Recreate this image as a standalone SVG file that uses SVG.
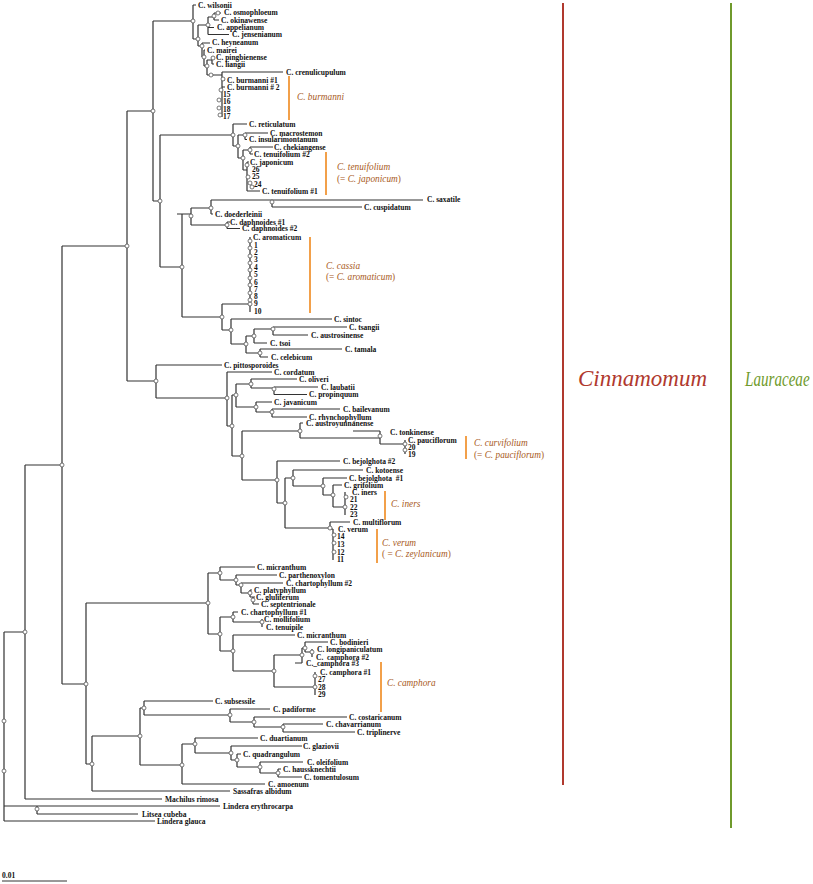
<svg xmlns="http://www.w3.org/2000/svg" xmlns:xlink="http://www.w3.org/1999/xlink" width="813" height="884" viewBox="0 0 813 884">
<style>
.br{fill:none;stroke:#333;stroke-width:1.2}
.lb{font-family:"Liberation Serif",serif;font-weight:bold;font-size:7.5px;fill:#111}
.cl{font-family:"Liberation Serif",serif;font-style:italic;font-size:9.3px;fill:#a85a1c}
.up{font-style:normal}
.bar{stroke:#f2a04a;stroke-width:2}
</style>
<defs>
<circle id="nc" r="2" fill="#fff" stroke="#555" stroke-width="0.8"/>
</defs>
<rect width="813" height="884" fill="#fff"/>
<g id="connectors" class="br">
<path d="M127 111V381M62 246H127M127 111H153M153 21V201M153 21H193M153 201H160"/>
<path d="M193 5V39M193 5H196M193 39H198M198 25V46M198 25H208M198 46H202M208 17V34.5M208 17H214M208 27.5H214M208 34.5H229M214 13V20M214 13H221M214 20H219M202 43V57M202 43H210M202 57H204M204 50V66M204 50H205M204 66H207M207 60V75M207 60H212M207 75H222M212 57V64M212 57H214M212 64H214M222 72V117M222 72H283M222 80H225M222 87H225"/>
<path d="M160 135V267M160 135H233M160 267H182M233 124V146M233 124H247M233 146H238M238 135V158M238 135H245M238 158H243M245 133V139.5M245 133H268M245 139.5H247M243 150V170M243 150H250M243 170H247M250 147V154M250 147H273M250 154H253M247 162V191M247 162H249M247 191H260"/>
<path d="M182 214V317M177 214H191M191 208V225M191 208H211M191 225H227M211 200V214M211 200H423M211 214H213M272 200V207M272 207H362M227 222V228.5M227 222H230M227 228.5H240"/>
<path d="M182 317H222M222 304V330M222 304H250M222 330H231M250 237V312M231 319V344M231 319H332M231 344H246M246 336V353M246 336H254M246 353H260M254 329V343M254 329H273M254 343H267M273 327V335M273 327H347M273 335H308M260 349V357M260 349H342M260 357H268"/>
<path d="M127 381H156M156 365V398M156 365H222M156 398H227M227 372V426M227 372H272M227 426H232M232 395V456M232 395H236M232 456H242M236 384V407M236 384H251M236 407H256M251 379V388M251 379H297M251 388H274M274 387V394.5M274 387H318M274 394.5H307M256 402V412M256 402H272M256 412H272M272 409V417M272 409H340M272 417H307"/>
<path d="M242 431V480M242 431H300M242 480H277M300 423V438M300 423H303M300 438H380M380 431V444M353 431H380M380 444H405M405 440V454M277 461V503M277 461H340M277 503H285M285 478V528M285 478H293M285 528H330M293 470V486M293 470H363M293 486H323M323 478V495M323 478H347M323 495H333M333 485V507M333 485H342M333 507H345M345 492V515M330 522V529M330 522H350M330 529H333M333 529V560"/>
<path d="M62 246V684M25 465H62M62 684H86M86 603V764M86 603H208M86 764H92M208 573V634M208 573H220M208 634H220M220 567V580M220 567H255M220 580H236M236 575V585M236 575H277M236 585H241M241 583V593M241 583H283M241 593H250M250 590V597M250 590H252M250 597H253M253 597V604M253 597H255M253 604H259M220 617V651M220 617H233M220 651H233M233 612V622M233 612H238M233 622H262M262 619V627M233 635V671M233 635H295M233 671H274M274 655V687M274 655H302M274 687H315M302 648V663M302 648H305M295 663H302M305 642V652M305 642H328M305 652H312M312 649V657M315 672V695"/>
<path d="M92 736V791M92 736H140M92 791H230M140 708V765M140 708H144M140 765H182M144 701V715M144 701H213M144 715H230M230 709V722M230 709H270M230 722H254M254 717V727M254 717H347M254 727H283M283 724V732M283 724H323M283 732H355M182 744V784M182 744H195M182 784H265M195 738V753M195 738H258M195 753H231M231 746V760M231 746H302M231 760H237M237 754V767M237 754H241M237 767H260M260 762V773M260 762H303M260 773H278M278 769V777M278 769H281M278 777H302"/>
<path d="M25 465V799M25 799H162M4 632H25M4 632V821M4 806H37M4 821H155M37 806V814M37 806H220M37 814H138"/>
</g>
<g id="internal-nodes">
<use href="#nc" x="153" y="111"/><use href="#nc" x="193" y="21"/><use href="#nc" x="198" y="39"/><use href="#nc" x="208" y="25"/><use href="#nc" x="214" y="16"/><use href="#nc" x="218" y="13"/><use href="#nc" x="202" y="46"/><use href="#nc" x="204" y="57"/><use href="#nc" x="207" y="66"/><use href="#nc" x="213" y="58"/><use href="#nc" x="211" y="75"/><use href="#nc" x="223" y="79"/><use href="#nc" x="221" y="90"/><use href="#nc" x="219" y="100"/><use href="#nc" x="219" y="108"/><use href="#nc" x="220" y="115"/>
<use href="#nc" x="160" y="201"/><use href="#nc" x="233" y="135"/><use href="#nc" x="238" y="146"/><use href="#nc" x="245" y="135"/><use href="#nc" x="243" y="158"/><use href="#nc" x="250" y="150"/><use href="#nc" x="247" y="165"/><use href="#nc" x="248" y="177"/><use href="#nc" x="250" y="183"/><use href="#nc" x="252" y="187"/>
<use href="#nc" x="182" y="267"/><use href="#nc" x="191" y="216"/><use href="#nc" x="211" y="208"/><use href="#nc" x="272" y="202"/><use href="#nc" x="227" y="225"/>
<use href="#nc" x="222" y="317"/><use href="#nc" x="250" y="304"/><use href="#nc" x="231" y="330"/><use href="#nc" x="246" y="344"/><use href="#nc" x="254" y="336"/><use href="#nc" x="273" y="329"/><use href="#nc" x="260" y="353"/>
<use href="#nc" x="250" y="241"/><use href="#nc" x="250" y="248"/><use href="#nc" x="250" y="256"/><use href="#nc" x="250" y="263"/><use href="#nc" x="250" y="270"/><use href="#nc" x="250" y="278"/><use href="#nc" x="250" y="285"/><use href="#nc" x="250" y="293"/><use href="#nc" x="250" y="300"/>
<use href="#nc" x="127" y="246"/><use href="#nc" x="156" y="381"/><use href="#nc" x="227" y="398"/><use href="#nc" x="232" y="426"/><use href="#nc" x="236" y="395"/><use href="#nc" x="251" y="384"/><use href="#nc" x="274" y="389"/><use href="#nc" x="256" y="407"/><use href="#nc" x="272" y="412"/><use href="#nc" x="242" y="456"/><use href="#nc" x="300" y="431"/><use href="#nc" x="380" y="436"/><use href="#nc" x="405" y="444"/><use href="#nc" x="405" y="450"/><use href="#nc" x="277" y="480"/><use href="#nc" x="285" y="503"/><use href="#nc" x="293" y="478"/><use href="#nc" x="323" y="486"/><use href="#nc" x="333" y="495"/><use href="#nc" x="345" y="507"/><use href="#nc" x="346" y="497"/><use href="#nc" x="330" y="528"/><use href="#nc" x="334" y="535"/><use href="#nc" x="334" y="543"/><use href="#nc" x="334" y="552"/>
<use href="#nc" x="62" y="465"/><use href="#nc" x="25" y="632"/><use href="#nc" x="4" y="721"/><use href="#nc" x="4" y="771"/><use href="#nc" x="37" y="809"/><use href="#nc" x="86" y="684"/><use href="#nc" x="208" y="603"/><use href="#nc" x="220" y="573"/><use href="#nc" x="236" y="580"/><use href="#nc" x="241" y="585"/><use href="#nc" x="250" y="593"/><use href="#nc" x="253" y="600"/><use href="#nc" x="220" y="634"/><use href="#nc" x="233" y="617"/><use href="#nc" x="262" y="622"/><use href="#nc" x="233" y="651"/><use href="#nc" x="274" y="671"/><use href="#nc" x="302" y="655"/><use href="#nc" x="305" y="648"/><use href="#nc" x="312" y="652"/><use href="#nc" x="315" y="676"/><use href="#nc" x="315" y="687"/>
<use href="#nc" x="92" y="764"/><use href="#nc" x="140" y="736"/><use href="#nc" x="144" y="708"/><use href="#nc" x="230" y="715"/><use href="#nc" x="254" y="722"/><use href="#nc" x="283" y="727"/><use href="#nc" x="182" y="765"/><use href="#nc" x="195" y="744"/><use href="#nc" x="231" y="753"/><use href="#nc" x="237" y="760"/><use href="#nc" x="260" y="767"/><use href="#nc" x="278" y="773"/>
</g>
<g id="tips" class="lb">
<g id="t-wilsonii"><text x="198" y="7.7">C. wilsonii</text></g>
<g id="t-osmophloeum"><text x="224" y="15.4">C. osmophloeum</text></g>
<g id="t-okinawense"><text x="221" y="22.7">C. okinawense</text></g>
<g id="t-appelianum"><text x="217" y="30.2">C. appelianum</text></g>
<g id="t-jensenianum"><text x="232" y="37.2">C. jensenianum</text></g>
<g id="t-heyneanum"><text x="212" y="45.4">C. heyneanum</text></g>
<g id="t-mairei"><text x="207" y="52.7">C. mairei</text></g>
<g id="t-pingbienense"><text x="216" y="59.7">C. pingbienense</text></g>
<g id="t-liangii"><text x="216" y="66.7">C. liangii</text></g>
<g id="t-crenulicupulum"><text x="286" y="74.7">C. crenulicupulum</text></g>
<g id="t-burmanni1"><text x="227" y="82.7">C. burmanni #1</text></g>
<g id="t-burmanni2"><text x="227" y="89.7">C. burmanni # 2</text></g>
<g id="t-15"><text x="223" y="96.7">15</text></g>
<g id="t-16"><text x="223" y="104.2">16</text></g>
<g id="t-18"><text x="223" y="111.7">18</text></g>
<g id="t-17"><text x="223" y="119.2">17</text></g>
<g id="t-reticulatum"><text x="249" y="126.7">C. reticulatum</text></g>
<g id="t-macrostemon"><text x="270" y="135.5">C. macrostemon</text></g>
<g id="t-insularimontanum"><text x="249" y="142.4">C. insularimontanum</text></g>
<g id="t-chekiangense"><text x="274" y="149.7">C. chekiangense</text></g>
<g id="t-tenuifolium2"><text x="254" y="156.7">C. tenuifolium #2</text></g>
<g id="t-japonicum"><text x="250" y="164.7">C. japonicum</text></g>
<g id="t-26"><text x="252" y="171.7">26</text></g>
<g id="t-25"><text x="252" y="179.2">25</text></g>
<g id="t-24"><text x="254" y="186.7">24</text></g>
<g id="t-tenuifolium1"><text x="262" y="193.7">C. tenuifolium #1</text></g>
<g id="t-saxatile"><text x="427" y="202.2">C. saxatile</text></g>
<g id="t-cuspidatum"><text x="364" y="209.7">C. cuspidatum</text></g>
<g id="t-doederleinii"><text x="215" y="216.7">C. doederleinii</text></g>
<g id="t-daphnoides1"><text x="230" y="224.5">C. daphnoides #1</text></g>
<g id="t-daphnoides2"><text x="242" y="231.4">C. daphnoides #2</text></g>
<g id="t-aromaticum"><text x="253" y="239.7">C. aromaticum</text></g>
<g id="t-a1"><text x="254" y="247.7">1</text></g>
<g id="t-a2"><text x="254" y="254.7">2</text></g>
<g id="t-a3"><text x="254" y="262.2">3</text></g>
<g id="t-a4"><text x="254" y="269.7">4</text></g>
<g id="t-a5"><text x="254" y="277.2">5</text></g>
<g id="t-a6"><text x="254" y="284.7">6</text></g>
<g id="t-a7"><text x="254" y="291.7">7</text></g>
<g id="t-a8"><text x="254" y="299.2">8</text></g>
<g id="t-a9"><text x="254" y="306.2">9</text></g>
<g id="t-a10"><text x="254" y="314.2">10</text></g>
<g id="t-sintoc"><text x="334" y="321.7">C. sintoc</text></g>
<g id="t-tsangii"><text x="349" y="329.7">C. tsangii</text></g>
<g id="t-austrosinense"><text x="311" y="337.7">C. austrosinense</text></g>
<g id="t-tsoi"><text x="270" y="345.7">C. tsoi</text></g>
<g id="t-tamala"><text x="345" y="351.7">C. tamala</text></g>
<g id="t-celebicum"><text x="271" y="359.7">C. celebicum</text></g>
<g id="t-pittosporoides"><text x="224" y="367.7">C. pittosporoides</text></g>
<g id="t-cordatum"><text x="274" y="374.7">C. cordatum</text></g>
<g id="t-oliveri"><text x="299" y="381.7">C. oliveri</text></g>
<g id="t-laubatii"><text x="321" y="389.7">C. laubatii</text></g>
<g id="t-propinquum"><text x="309" y="397.2">C. propinquum</text></g>
<g id="t-javanicum"><text x="274" y="404.7">C. javanicum</text></g>
<g id="t-bailevanum"><text x="343" y="411.7">C. bailevanum</text></g>
<g id="t-rhynchophyllum"><text x="309" y="419.5">C. rhynchophyllum</text></g>
<g id="t-austroyunnanense"><text x="306" y="425.9">C. austroyunnanense</text></g>
<g id="t-tonkinense"><text x="390" y="434.7">C. tonkinense</text></g>
<g id="t-pauciflorum"><text x="408" y="442.7">C. pauciflorum</text></g>
<g id="t-20"><text x="408" y="449.7">20</text></g>
<g id="t-19"><text x="408" y="456.7">19</text></g>
<g id="t-bejolghota2"><text x="343" y="463.7">C. bejolghota #2</text></g>
<g id="t-kotoense"><text x="366" y="472.7">C. kotoense</text></g>
<g id="t-bejolghota1"><text x="349" y="480.7" xml:space="preserve">C. bejolghota  #1</text></g>
<g id="t-grifolium"><text x="344" y="487.7">C. grifolium</text></g>
<g id="t-iners"><text x="352" y="494.7">C. iners</text></g>
<g id="t-21"><text x="350" y="501.7">21</text></g>
<g id="t-22"><text x="350" y="509.7">22</text></g>
<g id="t-23"><text x="350" y="516.7">23</text></g>
<g id="t-multiflorum"><text x="353" y="524.7">C. multiflorum</text></g>
<g id="t-verum"><text x="338" y="531.7">C. verum</text></g>
<g id="t-14"><text x="337" y="538.7">14</text></g>
<g id="t-13"><text x="337" y="546.7">13</text></g>
<g id="t-12"><text x="337" y="554.7">12</text></g>
<g id="t-11"><text x="337" y="561.7">11</text></g>
<g id="t-micranthum1"><text x="257" y="569.7">C. micranthum</text></g>
<g id="t-parthenoxylon"><text x="279" y="577.7">C. parthenoxylon</text></g>
<g id="t-chartophyllum2"><text x="286" y="585.7">C. chartophyllum #2</text></g>
<g id="t-platyphyllum"><text x="254" y="592.7">C. platyphyllum</text></g>
<g id="t-gluliferum"><text x="256" y="599.7">C. gluliferum</text></g>
<g id="t-septentrionale"><text x="261" y="606.7">C. septentrionale</text></g>
<g id="t-chartophyllum1"><text x="241" y="614.7">C. chartophyllum #1</text></g>
<g id="t-mollifolium"><text x="264" y="621.7">C. mollifolium</text></g>
<g id="t-tenuipile"><text x="266" y="629.7">C. tenuipile</text></g>
<g id="t-micranthum2"><text x="297" y="637.7">C. micranthum</text></g>
<g id="t-bodinieri"><text x="330" y="644.7">C. bodinieri</text></g>
<g id="t-longipaniculatum"><text x="317" y="651.7">C. longipaniculatum</text></g>
<g id="t-camphora2"><text x="316" y="659.5" xml:space="preserve">C.  camphora #2</text></g>
<g id="t-camphora3"><text x="306" y="665.9">C._camphora #3</text></g>
<g id="t-camphora1"><text x="320" y="674.7">C. camphora #1</text></g>
<g id="t-27"><text x="318" y="681.7">27</text></g>
<g id="t-28"><text x="318" y="689.7">28</text></g>
<g id="t-29"><text x="318" y="696.7">29</text></g>
<g id="t-subsessile"><text x="215" y="703.7">C. subsessile</text></g>
<g id="t-padiforme"><text x="273" y="711.7">C. padiforme</text></g>
<g id="t-costaricanum"><text x="349" y="719.7">C. costaricanum</text></g>
<g id="t-chavarrianum"><text x="326" y="726.7">C. chavarrianum</text></g>
<g id="t-triplinerve"><text x="357" y="734.7">C. triplinerve</text></g>
<g id="t-duartianum"><text x="260" y="740.7">C. duartianum</text></g>
<g id="t-glaziovii"><text x="303" y="748.7">C. glaziovii</text></g>
<g id="t-quadrangulum"><text x="243" y="756.7">C. quadrangulum</text></g>
<g id="t-oleifolium"><text x="307" y="764.7">C. oleifolium</text></g>
<g id="t-haussknechtii"><text x="283" y="771.7">C. haussknechtii</text></g>
<g id="t-tomentulosum"><text x="304" y="779.7">C. tomentulosum</text></g>
<g id="t-amoenum"><text x="268" y="786.7">C. amoenum</text></g>
<g id="t-sassafras"><text x="233" y="793.7">Sassafras albidum</text></g>
<g id="t-machilus"><text x="165" y="801.7">Machilus rimosa</text></g>
<g id="t-lindera-e"><text x="223" y="808.7">Lindera erythrocarpa</text></g>
<g id="t-litsea"><text x="142" y="816.7">Litsea cubeba</text></g>
<g id="t-lindera-g"><text x="157" y="823.7">Lindera glauca</text></g>
</g>
<g id="clade-burmanni"><line class="bar" x1="289" y1="76" x2="289" y2="120"/><text class="cl" x="297" y="100">C. burmanni</text></g>
<g id="clade-tenuifolium"><line class="bar" x1="326" y1="152" x2="326" y2="195"/><text class="cl" x="337" y="170">C. tenuifolium</text><text class="cl" x="337" y="182"><tspan class="up">(= </tspan>C. japonicum<tspan class="up">)</tspan></text></g>
<g id="clade-cassia"><line class="bar" x1="310" y1="237" x2="310" y2="313"/><text class="cl" x="326" y="269">C. cassia</text><text class="cl" x="326" y="280"><tspan class="up">(= </tspan>C. aromaticum<tspan class="up">)</tspan></text></g>
<g id="clade-curvifolium"><line class="bar" x1="466" y1="436" x2="466" y2="459"/><text class="cl" x="474" y="446">C. curvifolium</text><text class="cl" x="474" y="458"><tspan class="up">(= </tspan>C. pauciflorum<tspan class="up">)</tspan></text></g>
<g id="clade-iners"><line class="bar" x1="385" y1="491" x2="385" y2="520"/><text class="cl" x="391" y="507">C. iners</text></g>
<g id="clade-verum"><line class="bar" x1="377" y1="529" x2="377" y2="563"/><text class="cl" x="382" y="546">C. verum</text><text class="cl" x="382" y="557"><tspan class="up">( = </tspan>C. zeylanicum<tspan class="up">)</tspan></text></g>
<g id="clade-camphora"><line class="bar" x1="381" y1="662" x2="381" y2="712"/><text class="cl" x="387" y="686">C. camphora</text></g>
<g id="group-cinnamomum"><line x1="563" y1="3" x2="563" y2="785" stroke="#b0392e" stroke-width="2"/><text x="578" y="386" font-family="Liberation Serif, serif" font-style="italic" font-size="23" fill="#b0392e">Cinnamomum</text></g>
<g id="group-lauraceae"><line x1="731" y1="3" x2="731" y2="828" stroke="#6f9a2c" stroke-width="2"/><text transform="translate(745 386) scale(0.72 1)" x="0" y="0" font-family="Liberation Serif, serif" font-style="italic" font-size="21" fill="#6f9a2c">Lauraceae</text></g>
<g id="scale-bar"><text x="2" y="878" font-family="Liberation Serif, serif" font-weight="bold" font-size="7.5" fill="#111">0.01</text><line x1="2" y1="881" x2="67" y2="881" stroke="#333" stroke-width="1"/></g>
</svg>
